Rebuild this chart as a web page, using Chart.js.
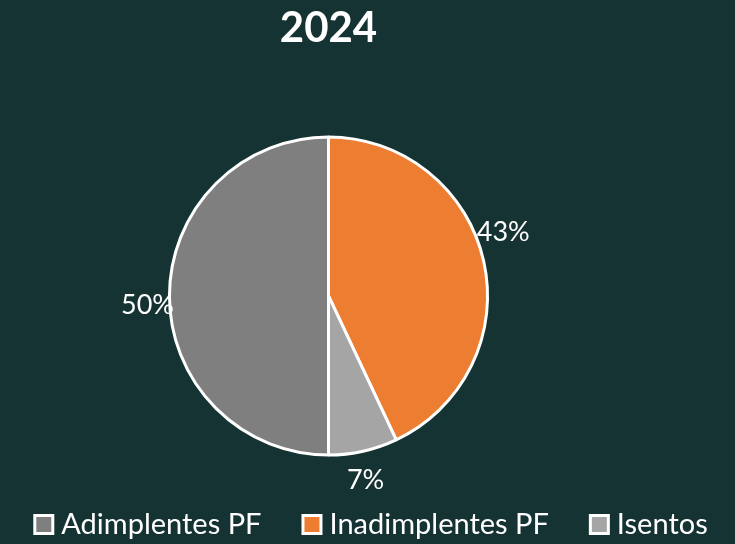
<!DOCTYPE html>
<html>
<head>
<meta charset="utf-8">
<script src="https://cdn.jsdelivr.net/npm/chart.js@4/dist/chart.umd.min.js"></script>
<style>
  html, body { margin: 0; padding: 0; background: #153332; }
  #wrap { width: 735px; height: 544px; position: relative; }
</style>
</head>
<body>
<div id="wrap"><canvas id="c" width="735" height="544"></canvas></div>
<script>
const chartTitle = "2024";
const categories = ["Adimplentes PF", "Inadimplentes PF", "Isentos"];
const values = [50, 43, 7];
const pctLabels = ["50%", "43%", "7%"];
const colors = ["#7F7F7F", "#ED7D31", "#A5A5A5"];
const BG = "#153332";
const FONT = "Lato, 'Open Sans', sans-serif";

const bgPlugin = {
  id: 'bg',
  beforeDraw(chart) {
    const ctx = chart.ctx;
    ctx.save();
    ctx.fillStyle = BG;
    ctx.fillRect(0, 0, chart.width, chart.height);
    ctx.restore();
  }
};

const labelPlugin = {
  id: 'pieLabels',
  afterDatasetsDraw(chart, args, opts) {
    const ctx = chart.ctx;
    const meta = chart.getDatasetMeta(0);
    ctx.save();
    ctx.font = "27px " + FONT;
    ctx.fillStyle = "#FFFFFF";
    ctx.textAlign = "center";
    ctx.textBaseline = "middle";
    meta.data.forEach((arc, i) => {
      const mid = (arc.startAngle + arc.endAngle) / 2;
      const r = arc.outerRadius + opts.dist;
      const adj = opts.adjust[i] || [0, 0];
      const x = arc.x + Math.cos(mid) * r + adj[0];
      const y = arc.y + Math.sin(mid) * r + adj[1];
      ctx.fillText(pctLabels[i], x, y);
    });
    ctx.restore();
  }
};

// custom bottom legend drawn on the chart canvas
const legendPlugin = {
  id: 'customLegend',
  afterDraw(chart, args, opts) {
    const ctx = chart.ctx;
    ctx.save();
    ctx.font = opts.fontSize + "px " + FONT;
    const box = opts.box, gap = opts.gap, spacing = opts.spacing;
    const widths = categories.map(c => box + gap + ctx.measureText(c).width);
    const total = widths.reduce((a, b) => a + b, 0) + spacing * (categories.length - 1);
    let x = opts.centerX - total / 2;
    const y = opts.centerY;
    categories.forEach((c, i) => {
      ctx.fillStyle = colors[i];
      ctx.strokeStyle = "#FFFFFF";
      ctx.lineWidth = 3;
      ctx.fillRect(x + 1.5, y - box / 2 + 1.5, box - 3, box - 3);
      ctx.strokeRect(x + 1.5, y - box / 2 + 1.5, box - 3, box - 3);
      ctx.fillStyle = "#FFFFFF";
      ctx.textAlign = "left";
      ctx.textBaseline = "alphabetic";
      ctx.fillText(c, x + box + gap, opts.baseline);
      x += widths[i] + spacing;
    });
    ctx.restore();
  }
};

new Chart(document.getElementById('c'), {
  type: 'pie',
  data: {
    labels: categories,
    datasets: [{
      data: values,
      backgroundColor: colors,
      borderColor: "#FFFFFF",
      borderWidth: 3
    }]
  },
  options: {
    responsive: false,
    animation: false,
    rotation: 180,
    layout: { padding: { top: 0, bottom: 87.5, left: 0, right: 78 } },
    plugins: {
      title: {
        display: true,
        text: chartTitle,
        color: "#FFFFFF",
        font: { family: FONT, size: 42, weight: "bold" },
        padding: { top: 3, bottom: 82 }
      },
      legend: { display: false },
      tooltip: { enabled: false },
      pieLabels: { dist: 20, adjust: [[-2, 9], [0, -25], [-2, 10]] },
      customLegend: { fontSize: 29, box: 21, gap: 7, spacing: 40, centerX: 370.5, centerY: 524.5, baseline: 534 }
    }
  },
  plugins: [bgPlugin, labelPlugin, legendPlugin]
});
</script>
</body>
</html>
